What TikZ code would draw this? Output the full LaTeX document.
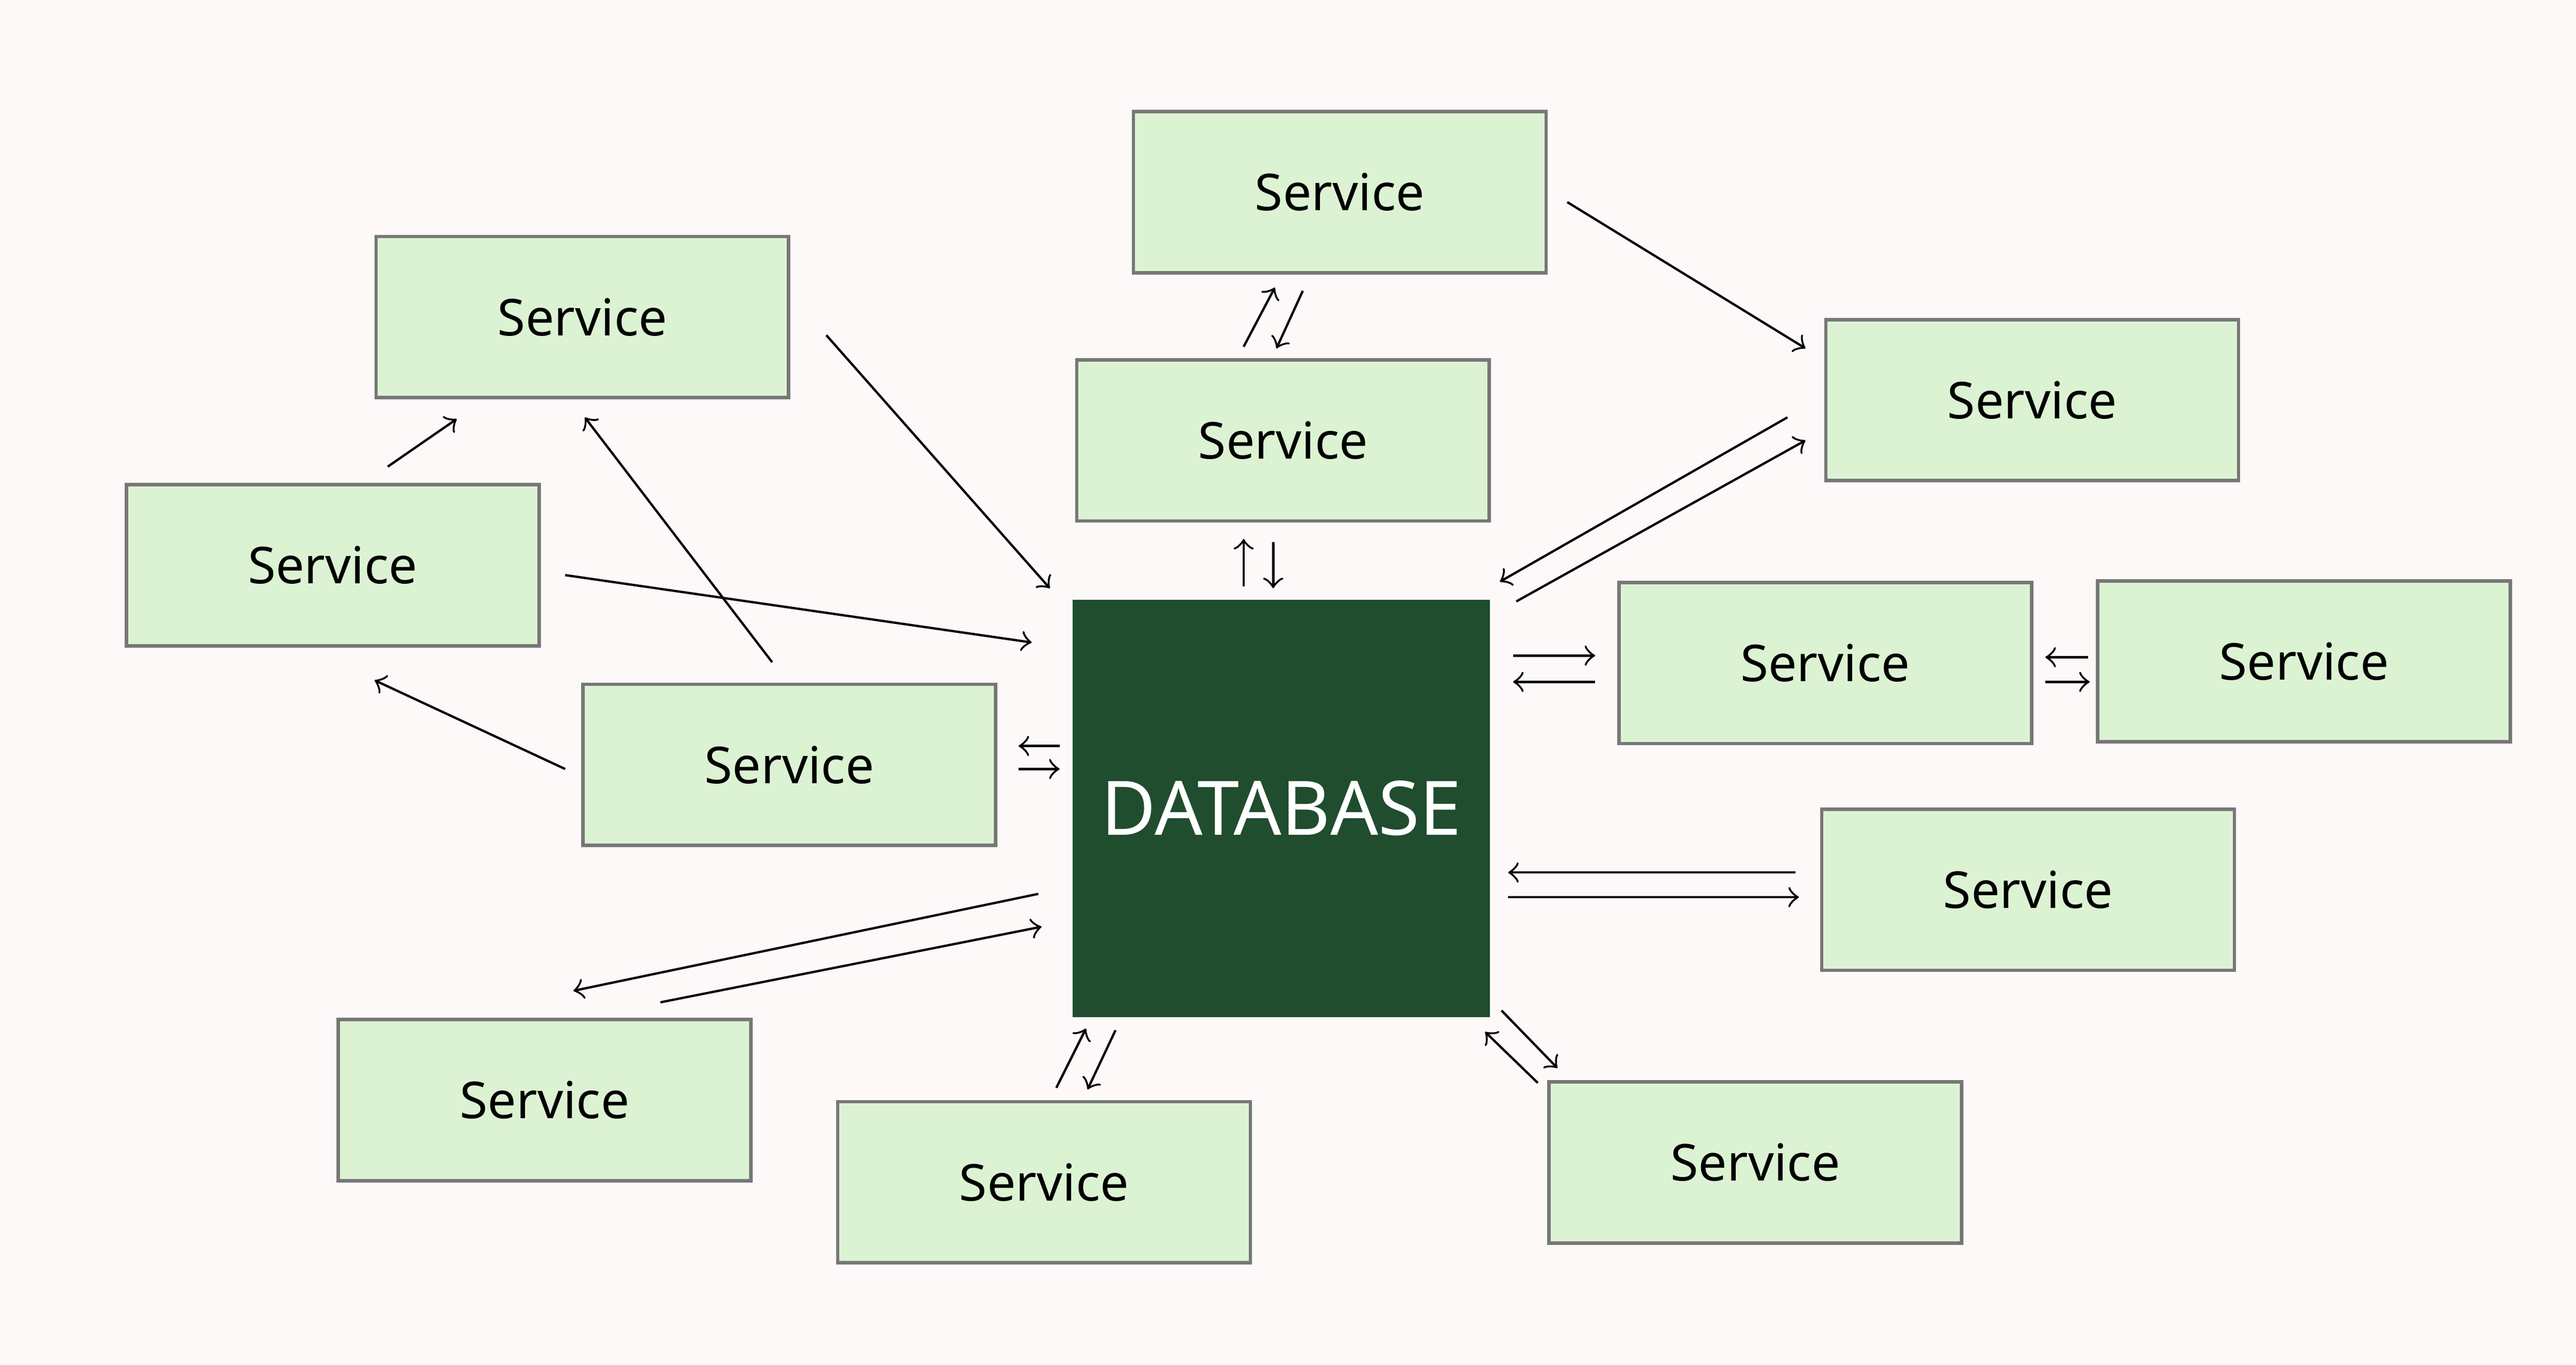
\documentclass[tikz,border=0pt]{standalone}
\usepackage{fontspec}
\setmainfont{Noto Sans}
\definecolor{bgcol}{HTML}{FCF9F8}
\definecolor{svcfill}{HTML}{DCF3D3}
\definecolor{svcline}{HTML}{777777}
\definecolor{dbfill}{HTML}{1F4D2D}
\tikzset{
  service/.style={shape=rectangle,draw=svcline,fill=svcfill,line width=0.6pt,
    minimum width=2.51cm,minimum height=0.98cm,inner sep=0pt,
    font=\fontsize{8.8}{10}\selectfont\bfseries},
  database/.style={shape=rectangle,fill=dbfill,minimum width=2.54cm,minimum height=2.54cm,
    inner sep=0pt,text=white,font=\fontsize{13}{15}\selectfont\bfseries},
  conn/.style={->,line width=0.4pt}
}
\begin{document}
\begin{tikzpicture}[x=0.01cm,y=-0.01cm]
	\fill[bgcol] (0,0) rectangle (1568,830.6);
	\useasboundingbox (0,0) rectangle (1568,830.6);

	\node[database] (db) at (780,492) {DATABASE};
	\node[service] (s1) at (815.5,117) {Service};
	\node[service] (s2) at (354.5,193) {Service};
	\node[service] (s3) at (781,268) {Service};
	\node[service] (s4) at (1237,243.5) {Service};
	\node[service] (s5) at (202.5,344) {Service};
	\node[service] (s6) at (480.5,465.5) {Service};
	\node[service] (s7) at (1111,403.5) {Service};
	\node[service] (s8) at (1402.5,402.5) {Service};
	\node[service] (s9) at (1234.5,541.5) {Service};
	\node[service] (s10) at (331.5,669.5) {Service};
	\node[service] (s11) at (635.5,719.5) {Service};
	\node[service] (s12) at (1068.5,707.5) {Service};

	% connectors float between the boxes
	\foreach \i/\xa/\ya/\xb/\yb in {
		1/954/123/1099/212, 2/757/211/776/175, 3/793/177/777/212,
		4/757/357/757/328, 5/775/330/775/358,
		6/1088/254/913/354, 7/923/366/1099/268,
		8/503/204/639/358, 9/236/284/278/255, 10/344/350/628/391,
		11/470/403/356/254, 12/344/468/228/414,
		13/645/454/620/454, 14/620/468/645/468,
		15/921/399/971/399, 16/971/415/921/415,
		17/1271/400/1245/400, 18/1245/415/1272/415,
		19/1093/531/918/531, 20/918/546/1095/546,
		21/632/544/349/603, 22/402/610/634/564,
		23/643/662/661/626, 24/679/627/662/663,
		25/914/615/948/650, 26/936/659/904/628}{
		\coordinate (p\i) at (\xa,\ya);
		\coordinate (q\i) at (\xb,\yb);
		\draw[conn] (p\i) -- (q\i);
	}
\end{tikzpicture}
\end{document}
